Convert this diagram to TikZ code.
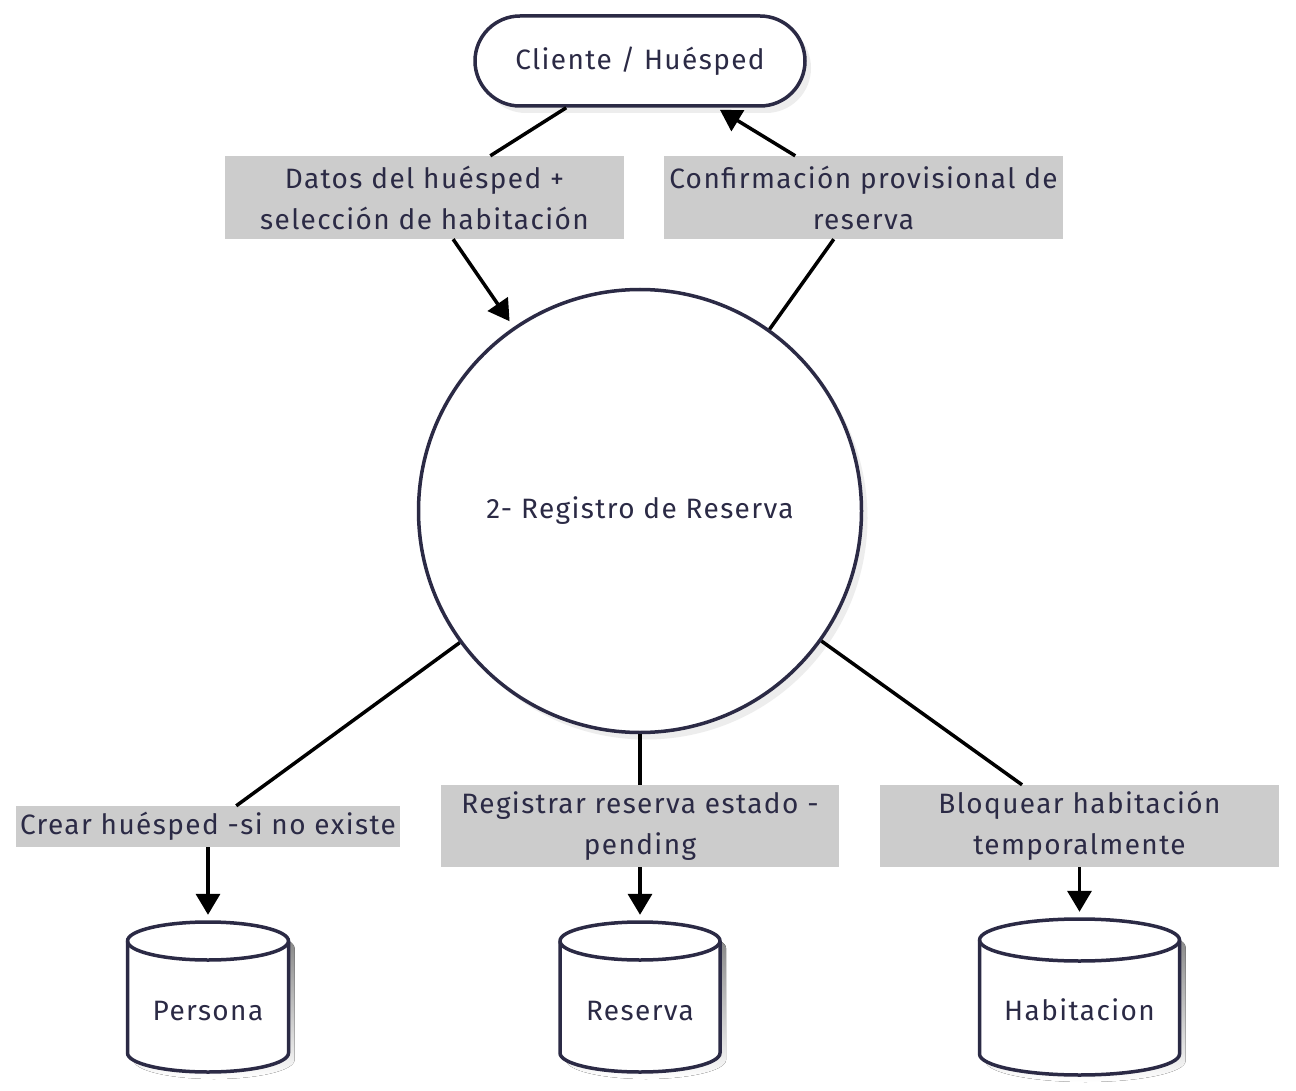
\documentclass[tikz,border=0pt]{standalone}
\usepackage{fontspec}
\setmainfont{Fira Sans}[LetterSpace=5]
\usetikzlibrary{arrows.meta,shadows}
\definecolor{ink}{HTML}{2B2A45}
\definecolor{lbl}{HTML}{CCCCCC}
\definecolor{shade}{HTML}{EDEDED}
\newcommand\drawcyl[5]{%
  \pgfmathsetmacro\cL{#1-#3/2}\pgfmathsetmacro\cR{#1+#3/2}%
  \pgfmathsetmacro\cT{#2+#5}\pgfmathsetmacro\cB{#2+#4-#5}%
  \fill[shade,shift={(6,7)}] (\cL,\cT) -- (\cL,\cB) arc[start angle=180,end angle=0,x radius=#3/2,y radius=#5] -- (\cR,\cT) arc[start angle=0,end angle=-180,x radius=#3/2,y radius=#5] -- cycle;
  \draw[cylline,fill=white] (\cL,\cT) -- (\cL,\cB) arc[start angle=180,end angle=0,x radius=#3/2,y radius=#5] -- (\cR,\cT) arc[start angle=0,end angle=-180,x radius=#3/2,y radius=#5] -- cycle;
  \draw[cylline] (\cL,\cT) arc[start angle=180,end angle=0,x radius=#3/2,y radius=#5];
}
\begin{document}
\begin{tikzpicture}[x=1pt,y=-1pt,
  font=\fontsize{28}{41}\selectfont,
  cylline/.style={draw=ink,line width=3.5pt},
  stadium/.style={draw=ink,line width=3.5pt,fill=white,rounded corners=45pt,minimum width=330pt,minimum height=90pt,text=ink,
    drop shadow={shadow xshift=6pt,shadow yshift=-7pt,fill=shade,opacity=1}},
  proc/.style={circle,draw=ink,line width=3.5pt,fill=white,minimum size=443pt,text=ink,
    drop shadow={shadow xshift=6pt,shadow yshift=-7pt,fill=shade,opacity=1}},
  lab/.style={fill=lbl,text=ink,align=center,inner sep=0pt},
  dbnode/.style={rectangle,draw=none,text=ink,inner sep=0pt},
  conn/.style={draw=black,line width=3.5pt},
  arr/.style={conn,-{Triangle[length=21pt,width=24pt]},shorten >=7pt}
]
\useasboundingbox[fill=white] (0,0) rectangle (1296,1091);

% nodes
\node[stadium] (cl) at (640,61) {Cliente / Huésped};
\node[proc] (p) at (640,511) {2- Registro de Reserva};

\drawcyl{208}{922}{161}{150}{19}
\node[dbnode,minimum width=161pt,minimum height=150pt] (db1) at (208,997) {};
\node[text=ink] at (208,1011) {Persona};
\drawcyl{640}{922}{160}{150}{19}
\node[dbnode,minimum width=160pt,minimum height=150pt] (db2) at (640,997) {};
\node[text=ink] at (640,1011) {Reserva};
\drawcyl{1079.5}{919}{200}{156}{21}
\node[dbnode,minimum width=200pt,minimum height=156pt] (db3) at (1079.5,997) {};
\node[text=ink] at (1079.5,1010) {Habitacion};

% labels
\node[lab,minimum width=399pt,minimum height=83pt] (l1) at (424.5,197.5) {Datos del huésped +\\selección de habitación};
\node[lab,minimum width=399pt,minimum height=83pt] (l2) at (863.5,197.5) {Confirmación provisional de\\reserva};
\node[lab,minimum width=384pt,minimum height=41pt] (l3) at (208,826.5) {Crear huésped -si no existe};
\node[lab,minimum width=398pt,minimum height=82pt] (l4) at (640,826) {Registrar reserva estado -\\pending};
\node[lab,minimum width=399pt,minimum height=82pt] (l5) at (1079.5,826) {Bloquear habitación\\temporalmente};

% connectors
\draw[conn] (cl) -- (l1);
\draw[arr] (l1) -- (p);
\draw[conn] (p) -- (l2);
\draw[arr,shorten >=4pt] (l2) -- (cl);
\draw[conn] (p) -- (l3);
\draw[arr] (l3) -- (db1);
\draw[conn] (p) -- (l4);
\draw[arr] (l4) -- (db2);
\draw[conn] (p) -- (l5);
\draw[arr] (l5) -- (db3);
\end{tikzpicture}
\end{document}
